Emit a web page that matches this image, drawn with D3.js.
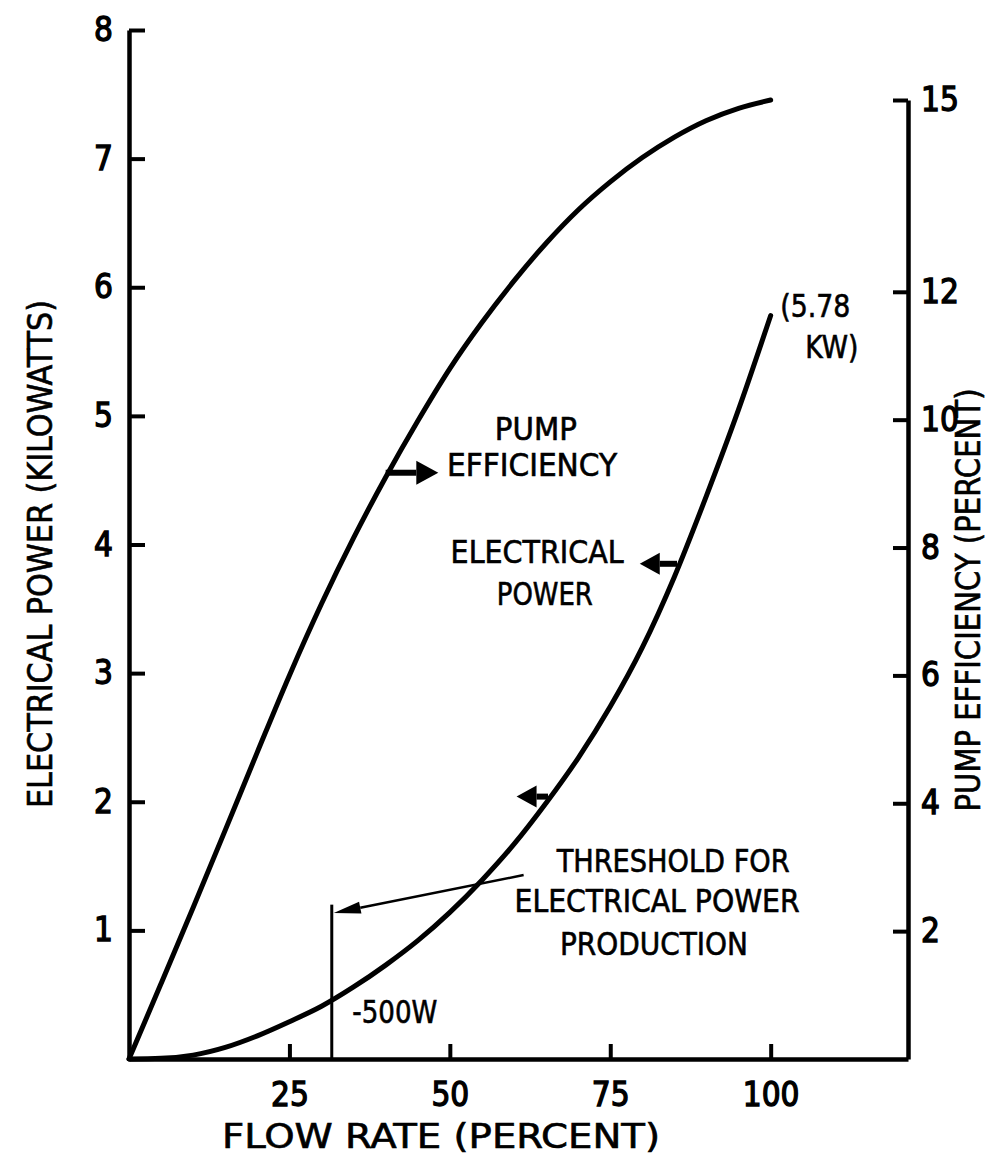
<!DOCTYPE html>
<html>
<head>
<meta charset="utf-8">
<script src="https://cdn.jsdelivr.net/npm/d3@7/dist/d3.min.js"></script>
<style>
    body { margin: 0; background: #fff; }
    text {
        font-family: "Liberation Sans Narrow", "DejaVu Sans Condensed", "Arial Narrow", sans-serif;
        fill: #000;
        stroke: #000;
        stroke-width: 0.6px;
    }
</style>
</head>
<body>
<svg id="chart" width="990" height="1155"></svg>
<script>

// Pump efficiency curve (right axis, percent) against flow rate (percent)
var effFlow  = [0, 5, 10, 15, 20, 25, 30, 35, 40, 45, 50, 55, 60, 65, 70, 75, 80, 85, 90, 95, 100];
var effValue = [0, 1.18, 2.37, 3.58, 4.8, 6.0, 7.12, 8.15, 9.1, 9.98, 10.8, 11.52, 12.17, 12.76, 13.28, 13.72, 14.1, 14.42, 14.68, 14.87, 15.0];

// Electrical power curve (left axis, kilowatts) against flow rate (percent)
var powFlow  = [0, 5, 10, 15, 20, 25, 30, 35, 40, 45, 50, 55, 60, 65, 70, 75, 80, 85, 90, 95, 100];
var powValue = [0, 0.005, 0.03, 0.09, 0.18, 0.29, 0.41, 0.56, 0.73, 0.92, 1.14, 1.39, 1.67, 1.99, 2.34, 2.74, 3.2, 3.75, 4.38, 5.05, 5.78];

// Tick values
var flowTicks  = [25, 50, 75, 100];
var powerTicks = [1, 2, 3, 4, 5, 6, 7, 8];
var effTicks   = [2, 4, 6, 8, 10, 12, 15];

// Threshold for electrical power production
var thresholdFlow = 31.6;
var thresholdTop  = 1.2;

var svg = d3.select("#chart");

// Scales
var xScale = d3.scaleLinear().domain([0, 121.4]).range([129, 908]);
var yPower = d3.scaleLinear().domain([0, 8]).range([1059, 30]);
var yEff   = d3.scaleLinear().domain([0, 15]).range([1059, 100]);

function styleAxis(g) {
    g.select(".domain").attr("stroke", "#000").attr("stroke-width", 4.5);
    g.selectAll(".tick line").attr("stroke", "#000").attr("stroke-width", 4);
    g.selectAll(".tick text")
        .attr("fill", "#000")
        .style("font-size", "33px")
        .style("stroke-width", "1.3px");
}

// Left axis (electrical power)
svg.append("g")
    .attr("transform", `translate(${xScale(0)}, 0)`)
    .call(d3.axisLeft(yPower)
        .tickValues(powerTicks)
        .tickSize(-16)
        .tickSizeOuter(0)
        .tickPadding(16)
        .tickFormat(d3.format("d")))
    .call(styleAxis);

// Bottom axis (flow rate)
svg.append("g")
    .attr("transform", `translate(0, ${yPower(0)})`)
    .call(d3.axisBottom(xScale)
        .tickValues(flowTicks)
        .tickSize(-15)
        .tickSizeOuter(0)
        .tickPadding(24)
        .tickFormat(d3.format("d")))
    .call(styleAxis);

// Right axis (pump efficiency)
svg.append("g")
    .attr("transform", `translate(${xScale.range()[1]}, 0)`)
    .call(d3.axisRight(yEff)
        .tickValues(effTicks)
        .tickSize(-15)
        .tickSizeOuter(0)
        .tickPadding(13)
        .tickFormat(d3.format("d")))
    .call(styleAxis);

// Axis titles
svg.append("text")
    .attr("x", 441)
    .attr("y", 1148)
    .attr("text-anchor", "middle")
    .attr("textLength", 438)
    .attr("lengthAdjust", "spacingAndGlyphs")
    .style("font-size", "34px")
    .text("FLOW RATE (PERCENT)");

svg.append("text")
    .attr("transform", "translate(52, 554) rotate(-90)")
    .attr("text-anchor", "middle")
    .attr("textLength", 508)
    .attr("lengthAdjust", "spacingAndGlyphs")
    .style("font-size", "34px")
    .text("ELECTRICAL POWER (KILOWATTS)");

svg.append("text")
    .attr("transform", "translate(980, 600) rotate(-90)")
    .attr("text-anchor", "middle")
    .attr("textLength", 423)
    .attr("lengthAdjust", "spacingAndGlyphs")
    .style("font-size", "33px")
    .text("PUMP EFFICIENCY (PERCENT)");

// Curves
var effLine = d3.line()
    .x(function(d) { return xScale(d[0]); })
    .y(function(d) { return yEff(d[1]); })
    .curve(d3.curveMonotoneX);

var powLine = d3.line()
    .x(function(d) { return xScale(d[0]); })
    .y(function(d) { return yPower(d[1]); })
    .curve(d3.curveMonotoneX);

svg.append("path")
    .datum(d3.zip(effFlow, effValue))
    .attr("fill", "none")
    .attr("stroke", "#000")
    .attr("stroke-width", 5)
    .attr("stroke-linecap", "round")
    .attr("d", effLine);

svg.append("path")
    .datum(d3.zip(powFlow, powValue))
    .attr("fill", "none")
    .attr("stroke", "#000")
    .attr("stroke-width", 5)
    .attr("stroke-linecap", "round")
    .attr("d", powLine);

// Arrow: shaft from (x1,y1) to (x2,y2), filled head at (x2,y2)
function drawArrow(x1, y1, x2, y2, shaft, headLen, headWidth) {
    var angle = Math.atan2(y2 - y1, x2 - x1);
    var bx = x2 - headLen * Math.cos(angle);
    var by = y2 - headLen * Math.sin(angle);
    svg.append("line")
        .attr("x1", x1).attr("y1", y1)
        .attr("x2", bx).attr("y2", by)
        .attr("stroke", "#000")
        .attr("stroke-width", shaft);
    var nx = -Math.sin(angle) * headWidth / 2;
    var ny = Math.cos(angle) * headWidth / 2;
    svg.append("path")
        .attr("d", `M${x2},${y2}L${bx + nx},${by + ny}L${bx - nx},${by - ny}Z`)
        .attr("fill", "#000");
}

// Series arrows pointing to their axes
drawArrow(xScale(40), yEff(9.17), xScale(48.2), yEff(9.17), 6, 22, 24);
drawArrow(xScale(85.4), yPower(3.85), xScale(79.6), yPower(3.85), 6, 20, 22);
drawArrow(xScale(65.3), yPower(2.04), xScale(60.4), yPower(2.04), 6, 20, 22);

// Threshold marker
svg.append("line")
    .attr("x1", xScale(thresholdFlow)).attr("y1", yPower(0))
    .attr("x2", xScale(thresholdFlow)).attr("y2", yPower(thresholdTop))
    .attr("stroke", "#000")
    .attr("stroke-width", 3);

drawArrow(xScale(61.5), yPower(1.43), xScale(thresholdFlow) + 2, yPower(1.135), 2.5, 27, 12);

// Annotation labels
function label(txt, x, y, len, anchor) {
    svg.append("text")
        .attr("x", x)
        .attr("y", y)
        .attr("text-anchor", anchor || "middle")
        .attr("textLength", len)
        .attr("lengthAdjust", "spacingAndGlyphs")
        .style("font-size", "32px")
        .text(txt);
}

label("PUMP", xScale(63.4), yPower(4.81), 82);
label("EFFICIENCY", xScale(62.8), yPower(4.53), 170);
label("ELECTRICAL", xScale(63.6), yPower(3.86), 173);
label("POWER", xScale(64.8), yPower(3.53), 96);
label("THRESHOLD FOR", xScale(84.8), yPower(1.45), 233);
label("ELECTRICAL POWER", xScale(82.3), yPower(1.14), 285);
label("PRODUCTION", xScale(81.8), yPower(0.81), 188);
label("-500W", xScale(34.8), yPower(0.28), 85, "start");
label("(5.78", xScale(101.5), yPower(5.77), 70, "start");
label("KW)", xScale(105.4), yPower(5.45), 53, "start");

</script>
</body>
</html>
